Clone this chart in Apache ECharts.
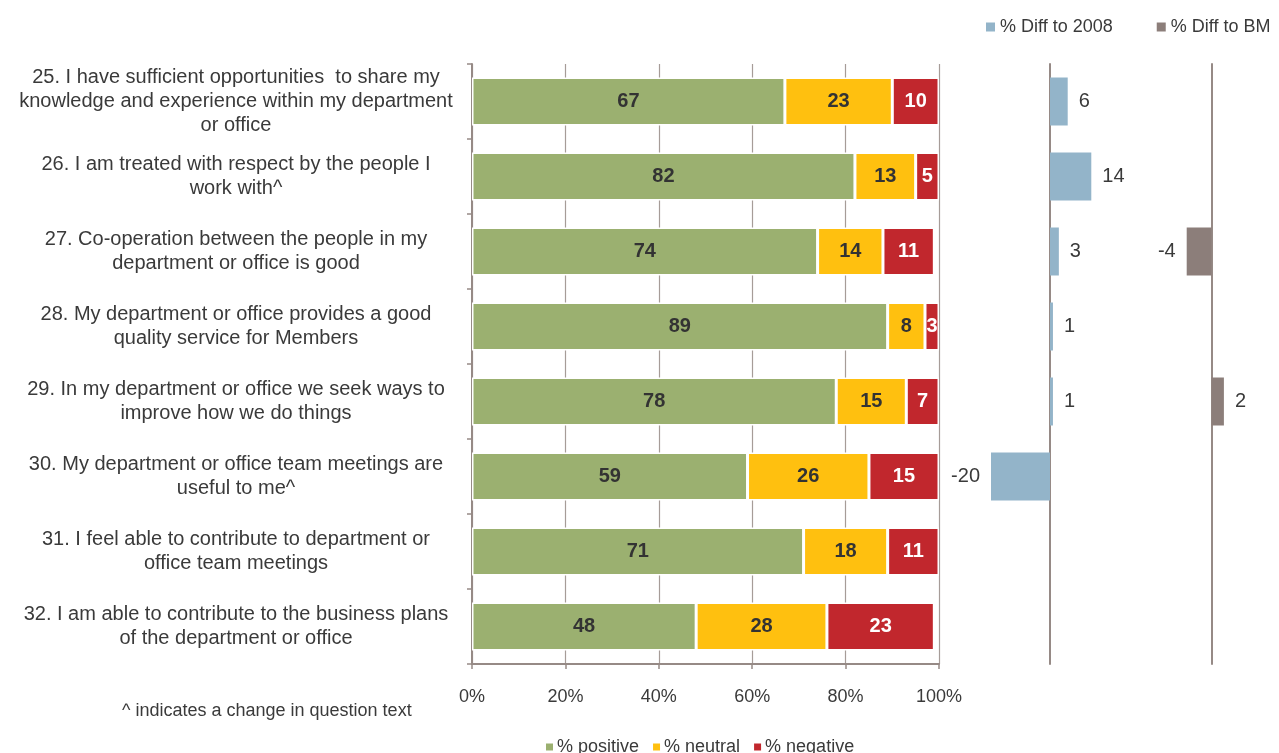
<!DOCTYPE html>
<html>
<head>
<meta charset="utf-8">
<script src="https://cdn.jsdelivr.net/npm/echarts@6/dist/echarts.min.js"></script>
<style>
  html, body { margin: 0; padding: 0; background: #fff; }
  #chart { width: 1279px; height: 753px; }
</style>
</head>
<body>
<div id="chart"></div>
<script>
// Survey questions (wrapped as shown on the axis)
const categories = [
  '25. I have sufficient opportunities  to share my\nknowledge and experience within my department\nor office',
  '26. I am treated with respect by the people I\nwork with^',
  '27. Co-operation between the people in my\ndepartment or office is good',
  '28. My department or office provides a good\nquality service for Members',
  '29. In my department or office we seek ways to\nimprove how we do things',
  '30. My department or office team meetings are\nuseful to me^',
  '31. I feel able to contribute to department or\noffice team meetings',
  '32. I am able to contribute to the business plans\nof the department or office'
];

// Response shares (%)
const positive = [67, 82, 74, 89, 78, 59, 71, 48];
const neutral  = [23, 13, 14, 8, 15, 26, 18, 28];
const negative = [10, 5, 11, 3, 7, 15, 11, 23];

// Change in % positive
const diff2008 = [6, 14, 3, 1, 1, -20, null, null];
const diffBM   = [null, null, -4, null, 2, null, null, null];

// Percentage axis ticks
const pctTicks = [0, 20, 40, 60, 80, 100];

const FONT = '"Liberation Sans", Arial, sans-serif';
const TEXT = '#3a3a3a';
const AXIS = '#968a86';
const GRIDLINE = '#a69c98';

const chart = echarts.init(document.getElementById('chart'), null, { renderer: 'canvas' });

function diffData(arr) {
  return arr.map(v => v == null ? null : {
    value: v,
    label: { position: v < 0 ? 'left' : 'right' }
  });
}

function stackSeries(name, data, color, labelColor) {
  return {
    name: name,
    type: 'bar',
    stack: 'resp',
    xAxisIndex: 0,
    yAxisIndex: 0,
    data: data,
    barWidth: 48,
    itemStyle: { color: color, borderColor: '#ffffff', borderWidth: 1.5 },
    label: {
      show: true,
      position: 'inside',
      fontSize: 20,
      fontWeight: 'bold',
      fontFamily: FONT,
      color: labelColor
    }
  };
}

function diffSeries(name, data, color, idx) {
  return {
    name: name,
    type: 'bar',
    xAxisIndex: idx,
    yAxisIndex: idx,
    data: diffData(data),
    barWidth: 48,
    itemStyle: { color: color },
    label: {
      show: true,
      distance: 11,
      fontSize: 20,
      fontFamily: FONT,
      color: TEXT
    }
  };
}

const option = {
  animation: false,
  backgroundColor: '#ffffff',
  textStyle: { fontFamily: FONT },
  legend: [
    {
      data: ['% positive', '% neutral', '% negative'],
      left: 539, top: 733,
      icon: 'rect', itemWidth: 9, itemHeight: 9, itemGap: 12,
      textStyle: { fontSize: 18, color: TEXT, fontFamily: FONT, padding: [0, 0, 0, -2] }
    },
    {
      data: ['% Diff to 2008', '% Diff to BM'],
      left: 981, top: 13,
      icon: 'rect', itemWidth: 9, itemHeight: 9, itemGap: 44,
      textStyle: { fontSize: 18, color: TEXT, fontFamily: FONT, padding: [0, 0, 0, 0] }
    }
  ],
  grid: [
    { left: 472, top: 64, width: 467, height: 600 },
    { left: 991, top: 64, width: 118, height: 600 },
    { left: 1180.5, top: 64, width: 62, height: 600 }
  ],
  xAxis: [
    {
      gridIndex: 0, type: 'value', min: pctTicks[0], max: pctTicks[pctTicks.length - 1], interval: 20,
      axisLine: { show: true, lineStyle: { color: AXIS, width: 2 } },
      axisTick: { show: true, length: 5, lineStyle: { color: AXIS, width: 1.5 } },
      axisLabel: { formatter: '{value}%', fontSize: 18, color: TEXT, margin: 24, fontFamily: FONT },
      splitLine: { show: true, lineStyle: { color: GRIDLINE, width: 1.2 } }
    },
    { gridIndex: 1, type: 'value', min: -20, max: 20, show: false, splitLine: { show: false } },
    { gridIndex: 2, type: 'value', min: -5, max: 5, show: false, splitLine: { show: false } }
  ],
  yAxis: [
    {
      gridIndex: 0, type: 'category', data: categories, inverse: true,
      axisLine: { show: true, lineStyle: { color: AXIS, width: 2 } },
      axisTick: { show: true, length: 5, lineStyle: { color: AXIS, width: 1.5 } },
      axisLabel: {
        align: 'center', margin: 236, fontSize: 20, lineHeight: 24,
        color: TEXT, fontFamily: FONT
      }
    },
    {
      gridIndex: 1, type: 'category', data: categories, inverse: true,
      axisLine: { show: true, onZero: true, lineStyle: { color: AXIS, width: 2 } },
      axisTick: { show: false }, axisLabel: { show: false }
    },
    {
      gridIndex: 2, type: 'category', data: categories, inverse: true,
      axisLine: { show: true, onZero: true, lineStyle: { color: AXIS, width: 2 } },
      axisTick: { show: false }, axisLabel: { show: false }
    }
  ],
  series: [
    stackSeries('% positive', positive, '#9bb070', '#333333'),
    stackSeries('% neutral', neutral, '#ffc00f', '#333333'),
    stackSeries('% negative', negative, '#c1272d', '#ffffff'),
    diffSeries('% Diff to 2008', diff2008, '#93b4c9', 1),
    diffSeries('% Diff to BM', diffBM, '#8c7e7a', 2)
  ],
  graphic: [
    {
      type: 'text',
      left: 122, top: 702,
      style: { text: '^ indicates a change in question text', fontSize: 18, fill: TEXT, fontFamily: FONT }
    }
  ]
};

chart.setOption(option);
</script>
</body>
</html>
